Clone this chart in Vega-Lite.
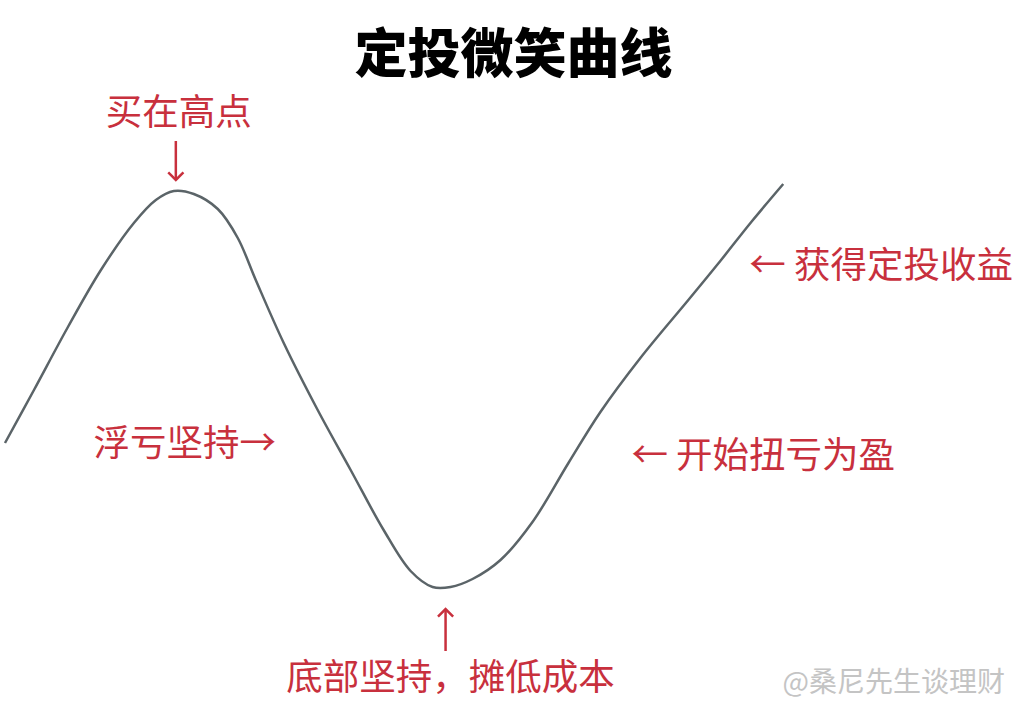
{
  "$schema": "https://vega.github.io/schema/vega-lite/v6.json",
  "autosize": {"type": "fit", "contains": "padding"},
  "width": 1026,
  "height": 720,
  "padding": 0,
  "background": "white",
  "config": {"view": {"stroke": null}},
  "datasets": {
    "curve": [
      {"x": 4, "y": 443}, {"x": 33, "y": 390}, {"x": 67, "y": 327}, {"x": 100, "y": 270},
      {"x": 133, "y": 223}, {"x": 155, "y": 200}, {"x": 173, "y": 191}, {"x": 193, "y": 194},
      {"x": 217, "y": 209}, {"x": 237, "y": 238}, {"x": 255, "y": 280}, {"x": 283, "y": 343},
      {"x": 317, "y": 410}, {"x": 350, "y": 470}, {"x": 383, "y": 530}, {"x": 410, "y": 571},
      {"x": 432, "y": 587}, {"x": 450, "y": 587}, {"x": 472, "y": 579}, {"x": 500, "y": 560},
      {"x": 532, "y": 522}, {"x": 568, "y": 463}, {"x": 600, "y": 412}, {"x": 640, "y": 358},
      {"x": 688, "y": 300}, {"x": 720, "y": 261}, {"x": 751, "y": 222}, {"x": 783, "y": 184}
    ],
    "title": [{"x": 513, "y": 57, "label": "定投微笑曲线"}],
    "notes": [
      {"x": 178, "y": 114, "label": "买在高点"},
      {"x": 184, "y": 445, "label": "浮亏坚持→"},
      {"x": 881, "y": 267, "label": "← 获得定投收益"},
      {"x": 763, "y": 457, "label": "← 开始扭亏为盈"},
      {"x": 450, "y": 679, "label": "底部坚持，摊低成本"}
    ],
    "arrows": [
      {"x": 175, "y": 141, "tip": 180, "dir": "down"},
      {"x": 445, "y": 651, "tip": 609, "dir": "up"}
    ],
    "mark": [{"x": 1005, "y": 684, "label": "@桑尼先生谈理财"}]
  },
  "encoding": {
    "x": {"field": "x", "type": "quantitative", "scale": {"domain": [0, 1026]}, "axis": null},
    "y": {"field": "y", "type": "quantitative", "scale": {"domain": [0, 720], "reverse": true}, "axis": null}
  },
  "layer": [
    {
      "data": {"name": "curve"},
      "mark": {"type": "line", "interpolate": "catmull-rom", "color": "#5b6468", "strokeWidth": 2.5}
    },
    {
      "data": {"name": "arrows"},
      "mark": {"type": "rule", "color": "#c8303d", "strokeWidth": 2.5},
      "encoding": {"y2": {"field": "tip"}}
    },
    {
      "data": {"name": "arrows"},
      "mark": {"type": "point", "filled": false, "color": "#c8303d", "strokeWidth": 2.5, "size": 230, "opacity": 1},
      "encoding": {
        "y": {"field": "tip", "type": "quantitative"},
        "shape": {
          "field": "dir",
          "type": "nominal",
          "scale": {"domain": ["down", "up"], "range": ["M-1,-1L0,0L1,-1", "M-1,1L0,0L1,1"]},
          "legend": null
        }
      }
    },
    {
      "data": {"name": "title"},
      "mark": {"type": "text", "font": "Noto Sans CJK SC", "fontSize": 53, "fontWeight": 900, "color": "#000000", "baseline": "middle"},
      "encoding": {"text": {"field": "label"}}
    },
    {
      "data": {"name": "notes"},
      "mark": {"type": "text", "font": "Noto Sans CJK SC", "fontSize": 36.5, "color": "#c8303d", "baseline": "middle"},
      "encoding": {"text": {"field": "label"}}
    },
    {
      "data": {"name": "mark"},
      "mark": {"type": "text", "font": "Noto Sans CJK SC", "fontSize": 28, "color": "#c4c4c4", "align": "right", "baseline": "middle"},
      "encoding": {"text": {"field": "label"}}
    }
  ]
}
